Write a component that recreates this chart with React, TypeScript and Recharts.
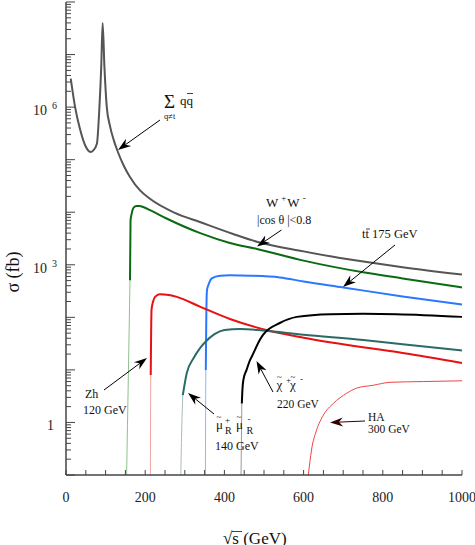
import React from "react";
import { Line, LineChart, XAxis, YAxis } from "recharts";

const W = 475;
const H = 545;
const PLOT = { left: 66, right: 462, top: 2, bottom: 475 };
const FONT = "'Liberation Serif', 'Times New Roman', serif";
const AXIS = "#444";

// sqrt(s) in GeV, sigma in fb
const qqS = [12, 23, 35, 48, 62, 69, 78, 84, 89, 92.5, 97, 103, 111, 121, 131, 146.5, 161.5, 187, 212, 275, 338, 422, 482, 600, 692, 751, 850, 1000];
const qqSigma = [3.5e6, 1.0e6, 3.9e5, 1.9e5, 1.4e5, 1.5e5, 2.0e5, 8.7e5, 5.9e6, 4.0e7, 5.9e6, 1.0e6, 4.4e5, 2.3e5, 1.4e5, 7.5e4, 4.7e4, 2.6e4, 1.8e4, 9.7e3, 6.5e3, 3.85e3, 2.75e3, 1.8e3, 1.35e3, 1.15e3, 900, 650];

const wwTailS = [153, 157.5, 161.6];
const wwTailSigma = [0.1, 7.9, 510];
const wwS = [161.6, 163, 166, 170, 177, 185, 198, 212, 254, 339, 414, 482, 600, 750, 850, 1000];
const wwSigma = [510, 7100, 9500, 12000, 13200, 13200, 12300, 11000, 7600, 4000, 2600, 2000, 1200, 720, 550, 370];

const ttTailS = [352, 353];
const ttTailSigma = [0.1, 10];
const ttS = [353, 354.5, 356, 360, 368, 389, 414, 465, 540, 600, 700, 850, 1000];
const ttSigma = [10, 140, 330, 420, 550, 620, 630, 620, 575, 480, 370, 250, 175];

const zhTailS = [213, 214];
const zhTailSigma = [0.1, 8];
const zhS = [214, 216, 220, 225, 237, 260, 280, 338, 414, 516, 600, 750, 850, 1000];
const zhSigma = [8, 140, 200, 245, 275, 265, 245, 160, 93, 55, 41, 27, 21, 13.5];

const muTailS = [290, 292, 295];
const muTailSigma = [0.1, 0.63, 3.3];
const muS = [295, 305, 322, 338, 353, 375, 400, 440, 498, 600, 751, 850, 1000];
const muSigma = [3.3, 8.7, 16.6, 25.7, 34.7, 47.9, 57.5, 60.3, 56.2, 46.8, 37.2, 30.9, 23.4];

const chiTailS = [442, 444];
const chiTailSigma = [0.1, 2.3];
const chiS = [444, 446, 448, 456, 465, 469, 490, 498, 540, 583, 667, 750, 835, 1000];
const chiSigma = [2.3, 4.8, 6.5, 10, 15.5, 17.8, 38, 47, 78, 102, 115, 117, 115, 102];

const haS = [612, 620, 633, 650, 675, 709, 734, 776, 818, 902, 1000];
const haSigma = [0.1, 0.3, 0.72, 1.38, 2.3, 3.6, 4.5, 5.1, 5.8, 6.0, 6.2];

const xTicks = [0, 50, 100, 150, 200, 250, 300, 350, 400, 450, 500, 550, 600, 650, 700, 750, 800, 850, 900, 950, 1000];
const xLabels = [0, 200, 400, 600, 800, 1000];
const decades = [0.1, 1, 10, 100, 1e3, 1e4, 1e5, 1e6, 1e7];
const minorSteps = [1, 2, 3, 4, 5, 6, 7, 8, 9];
const yTicks = [...decades.flatMap((d) => minorSteps.map((m) => m * d)), 1e8];
const yLabelExponents = [0, 3, 6];

const pts = (s: number[], sigma: number[]) => s.map((x, i) => ({ s: x, sigma: sigma[i] }));

const series = [
  { key: "wwTail", data: pts(wwTailS, wwTailSigma), color: "#8fc08f", width: 1 },
  { key: "ttTail", data: pts(ttTailS, ttTailSigma), color: "#8fb4ff", width: 1 },
  { key: "zhTail", data: pts(zhTailS, zhTailSigma), color: "#f5a3a3", width: 1 },
  { key: "muTail", data: pts(muTailS, muTailSigma), color: "#a7bdbb", width: 1 },
  { key: "chiTail", data: pts(chiTailS, chiTailSigma), color: "#999999", width: 1 },
  { key: "qq", data: pts(qqS, qqSigma), color: "#555555", width: 2 },
  { key: "ww", data: pts(wwS, wwSigma), color: "#0b6b12", width: 2 },
  { key: "tt", data: pts(ttS, ttSigma), color: "#2a78ff", width: 2 },
  { key: "zh", data: pts(zhS, zhSigma), color: "#e81010", width: 2 },
  { key: "mu", data: pts(muS, muSigma), color: "#2b6b66", width: 2 },
  { key: "chi", data: pts(chiS, chiSigma), color: "#000000", width: 2 },
  { key: "ha", data: pts(haS, haSigma), color: "#ee4444", width: 1 },
];

const isDecade = (v: number) => {
  const e = Math.log10(v);
  return Math.abs(e - Math.round(e)) < 1e-6;
};

const LeftTick = (p: any) => {
  const v = p.payload.value;
  const y = p.y;
  const major = isDecade(v);
  const e = Math.round(Math.log10(v));
  const labelled = major && yLabelExponents.includes(e);
  return (
    <g>
      <line x1={PLOT.left} x2={PLOT.left + (major ? 9 : 5)} y1={y} y2={y} stroke={AXIS} strokeWidth={1} />
      {labelled && e === 0 && (
        <text x={47} y={y + 8} fontSize={14} fontFamily={FONT} fill="#222">1</text>
      )}
      {labelled && e !== 0 && (
        <text x={33} y={y + 8} fontSize={14} fontFamily={FONT} fill="#222">
          10
          <tspan dx={5} dy={-6} fontSize={10}>{e}</tspan>
        </text>
      )}
    </g>
  );
};

const RightTick = (p: any) => {
  const v = p.payload.value;
  const major = isDecade(v);
  return (
    <line x1={PLOT.right - (major ? 7 : 4)} x2={PLOT.right} y1={p.y} y2={p.y} stroke={AXIS} strokeWidth={1} />
  );
};

const BottomTick = (p: any) => {
  const v = p.payload.value;
  return (
    <g>
      <line x1={p.x} x2={p.x} y1={PLOT.bottom} y2={PLOT.bottom - 5} stroke={AXIS} strokeWidth={1} />
      {xLabels.includes(v) && (
        <text x={p.x} y={502} textAnchor="middle" fontSize={14} fontFamily={FONT} fill="#222">{v}</text>
      )}
    </g>
  );
};

const TopTick = (p: any) => (
  <line x1={p.x} x2={p.x} y1={PLOT.top} y2={PLOT.top + 4} stroke={AXIS} strokeWidth={1} />
);

function Arrow({ x1, y1, x2, y2, color = "#000" }: { x1: number; y1: number; x2: number; y2: number; color?: string }) {
  const dx = x2 - x1;
  const dy = y2 - y1;
  const len = Math.hypot(dx, dy);
  const ux = dx / len;
  const uy = dy / len;
  const L = 13;
  const hw = 4.5;
  const notch = 9;
  const bx = x2 - ux * L;
  const by = y2 - uy * L;
  const nx = x2 - ux * notch;
  const ny = y2 - uy * notch;
  const px = -uy;
  const py = ux;
  return (
    <g>
      <line x1={x1} y1={y1} x2={nx} y2={ny} stroke={color} strokeWidth={1} />
      <polygon
        points={`${x2},${y2} ${bx + px * hw},${by + py * hw} ${nx},${ny} ${bx - px * hw},${by - py * hw}`}
        fill={color}
      />
    </g>
  );
}

function Annotations() {
  const t = { fontFamily: FONT, fill: "#111" };
  return (
    <svg width={W} height={H} style={{ position: "absolute", left: 0, top: 0, pointerEvents: "none" }}>
      {/* axis titles */}
      <text transform="translate(19,272) rotate(-90)" textAnchor="middle" fontSize={18} {...t}>σ (fb)</text>
      <text x={223} y={544} fontSize={17} {...t}>√s (GeV)</text>
      <line x1={232} x2={242} y1={531.5} y2={531.5} stroke="#111" strokeWidth={0.8} />

      {/* sum q qbar */}
      <text x={164} y={108} fontSize={19} {...t}>Σ</text>
      <text x={180} y={105} fontSize={13} {...t}>qq</text>
      <line x1={187} x2={193} y1={93.5} y2={93.5} stroke="#111" strokeWidth={0.8} />
      <text x={164} y={118.5} fontSize={8.5} {...t}>q≠t</text>
      <Arrow x1={160} y1={120} x2={118} y2={150} />

      {/* W+W- */}
      <text x={266} y={207} fontSize={13} {...t}>
        W<tspan dx={3} dy={-6} fontSize={9}>+</tspan>
        <tspan dx={1} dy={6} fontSize={13}>W</tspan>
        <tspan dx={3} dy={-6} fontSize={9}>-</tspan>
      </text>
      <text x={257} y={224} fontSize={12} {...t}>{"|cos θ |<0.8"}</text>
      <Arrow x1={281.5} y1={230} x2={257} y2={246.5} />

      {/* t tbar */}
      <text x={362} y={238} fontSize={12.5} {...t}>{"tt  175 GeV"}</text>
      <line x1={366} x2={370} y1={229} y2={229} stroke="#111" strokeWidth={0.8} />
      <Arrow x1={395} y1={245} x2={343} y2={287} />

      {/* Zh */}
      <text x={85} y={398} fontSize={12} {...t}>Zh</text>
      <text x={83} y={414} fontSize={12} {...t}>120 GeV</text>
      <Arrow x1={104} y1={390} x2={147} y2={358} />

      {/* smuon pair */}
      <text {...t}>
        <tspan x={216.5} y={419.5} fontSize={9}>~</tspan>
        <tspan x={216} y={429} fontSize={13}>μ</tspan>
        <tspan x={225} y={423} fontSize={9}>+</tspan>
        <tspan x={225} y={434} fontSize={10}>R</tspan>
        <tspan x={236.5} y={419.5} fontSize={9}>~</tspan>
        <tspan x={236} y={429} fontSize={13}>μ</tspan>
        <tspan x={247.5} y={422} fontSize={9}>-</tspan>
        <tspan x={246.5} y={434} fontSize={10}>R</tspan>
      </text>
      <text x={215} y={450} fontSize={12} {...t}>140 GeV</text>
      <Arrow x1={214} y1={414} x2={188} y2={393} />

      {/* chargino pair */}
      <text {...t}>
        <tspan x={277} y={380} fontSize={9}>~</tspan>
        <tspan x={276.5} y={389} fontSize={13}>χ</tspan>
        <tspan x={286} y={383} fontSize={9}>+</tspan>
        <tspan x={290.5} y={380} fontSize={9}>~</tspan>
        <tspan x={290} y={389} fontSize={13}>χ</tspan>
        <tspan x={300} y={382} fontSize={9}>-</tspan>
      </text>
      <text x={277} y={408} fontSize={11.5} {...t}>220 GeV</text>
      <Arrow x1={273} y1={392} x2={256.5} y2={361} />

      {/* HA */}
      <text x={368} y={421} fontSize={11.5} {...t}>HA</text>
      <text x={368} y={433} fontSize={11.5} {...t}>300 GeV</text>
      <Arrow x1={365} y1={421} x2={330} y2={422.5} color="#300" />
    </svg>
  );
}

export default function App() {
  return (
    <div style={{ position: "absolute", left: 0, top: 0, width: W, height: H, background: "#fff" }}>
      <LineChart width={W} height={H} margin={{ top: 2, right: 13, bottom: 0, left: 0 }}>
        <XAxis
          xAxisId="bottom"
          dataKey="s"
          type="number"
          domain={[0, 1000]}
          allowDataOverflow
          ticks={xTicks}
          interval={0}
          height={70}
          tickLine={false}
          axisLine={{ stroke: AXIS, strokeWidth: 1.5 }}
          tick={BottomTick}
        />
        <XAxis
          xAxisId="top"
          orientation="top"
          dataKey="s"
          type="number"
          domain={[0, 1000]}
          allowDataOverflow
          ticks={xTicks}
          interval={0}
          height={0}
          tickLine={false}
          axisLine={{ stroke: AXIS, strokeWidth: 1.5 }}
          tick={TopTick}
        />
        <YAxis
          yAxisId="left"
          type="number"
          scale="log"
          domain={[0.1, 1e8]}
          allowDataOverflow
          ticks={yTicks}
          interval={0}
          width={66}
          tickLine={false}
          axisLine={{ stroke: AXIS, strokeWidth: 1.5 }}
          tick={LeftTick}
        />
        <YAxis
          yAxisId="right"
          orientation="right"
          type="number"
          scale="log"
          domain={[0.1, 1e8]}
          allowDataOverflow
          ticks={yTicks}
          interval={0}
          width={0}
          tickLine={false}
          axisLine={{ stroke: AXIS, strokeWidth: 1.5 }}
          tick={RightTick}
        />
        {series.map((sr) => (
          <Line
            key={sr.key}
            xAxisId="bottom"
            yAxisId="left"
            data={sr.data}
            dataKey="sigma"
            type="monotone"
            stroke={sr.color}
            strokeWidth={sr.width}
            dot={false}
            activeDot={false}
            isAnimationActive={false}
          />
        ))}
      </LineChart>
      <Annotations />
    </div>
  );
}
